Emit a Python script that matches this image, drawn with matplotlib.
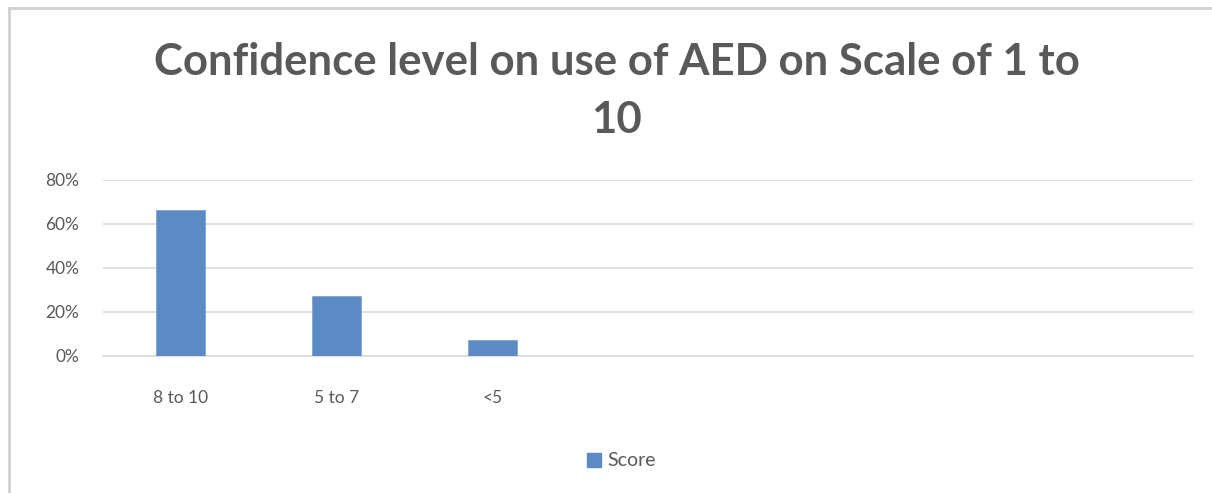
import matplotlib.pyplot as plt
from matplotlib.lines import Line2D
from matplotlib.ticker import PercentFormatter

# Survey answers: confidence using an AED (scale 1-10)
categories = ["8 to 10", "5 to 7", "<5"]
scores = [0.66, 0.27, 0.07]
n_slots = 7  # category axis keeps room for 7 groups

bar_color = "#5B8AC5"
text_color = "#595959"
grid_color = "#D9D9D9"

plt.rcParams['font.family'] = ['Lato', 'DejaVu Sans']

fig = plt.figure(figsize=(12.12, 4.93), dpi=100)
ax = fig.add_axes([103 / 1212, 1 - 355.7 / 493, 1090 / 1212, 176.2 / 493])

ax.bar(range(len(categories)), scores, width=0.315, color=bar_color,
       edgecolor="#7FA6D6", linewidth=0.6, zorder=3, label="Score")

ax.set_xlim(-0.5, n_slots - 0.5)
ax.set_ylim(0, 0.8)
ax.set_xticks(range(len(categories)))
ax.set_xticklabels(categories)
ax.set_yticks([0, 0.2, 0.4, 0.6, 0.8])
ax.yaxis.set_major_formatter(PercentFormatter(1.0, decimals=0))
ax.tick_params(axis='x', length=0, pad=25, labelsize=12.5, labelcolor=text_color)
ax.tick_params(axis='y', length=0, pad=17, labelsize=12.5, labelcolor=text_color)

ax.grid(axis='y', color=grid_color, linewidth=1.2, zorder=0)
for side in ["top", "right", "left"]:
    ax.spines[side].set_visible(False)
ax.spines["bottom"].set_color(grid_color)
ax.spines["bottom"].set_linewidth(1.2)

fig.text(0.509, 1 - 62 / 493, "Confidence level on use of AED on Scale of 1 to",
         ha="center", va="center", fontsize=31.5, fontweight="bold", color=text_color)
fig.text(0.509, 1 - 120 / 493, "10",
         ha="center", va="center", fontsize=31.5, fontweight="bold", color=text_color)

# legend under the chart
handle = Line2D([], [], marker="s", linestyle="none", markersize=10,
                markerfacecolor=bar_color, markeredgecolor=bar_color)
fig.legend([handle], ["Score"], loc="center", bbox_to_anchor=(620 / 1212, 1 - 461 / 493),
           frameon=False, fontsize=14, labelcolor=text_color, handletextpad=0.2,
           handlelength=1.0)

# outer chart border (top and left edges)
fig.add_artist(Line2D([9 / 1212, 1], [1 - 8 / 493, 1 - 8 / 493], color="#D0D0D0", linewidth=2))
fig.add_artist(Line2D([9 / 1212, 9 / 1212], [0, 1 - 8 / 493], color="#D0D0D0", linewidth=2))

fig.savefig("out.png", dpi=100)
